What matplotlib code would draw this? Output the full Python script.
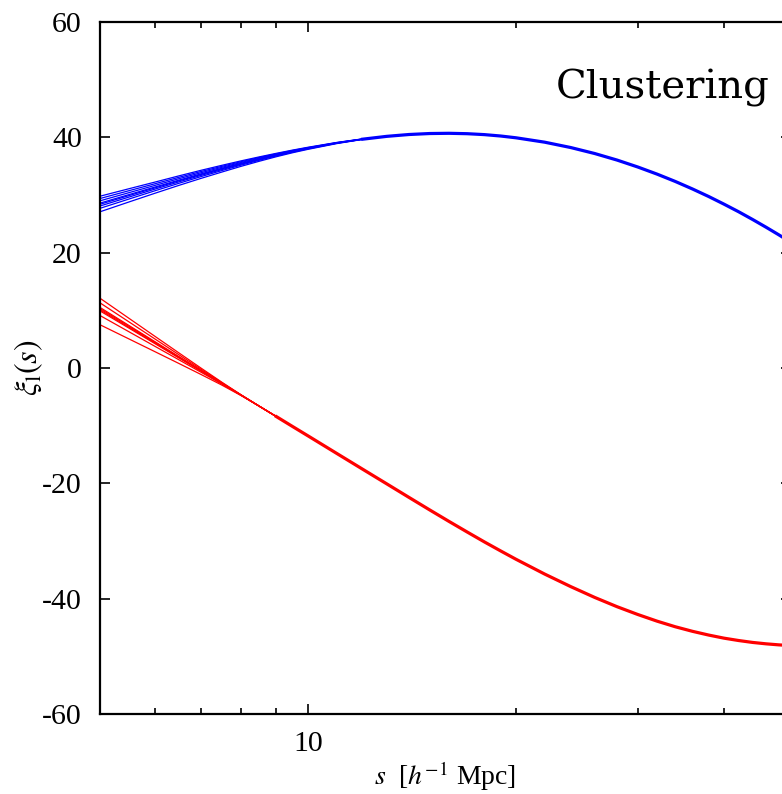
import matplotlib
matplotlib.use("Agg")
import matplotlib.pyplot as plt
from matplotlib.ticker import NullFormatter, LogLocator

plt.rcParams['font.family'] = 'Liberation Serif'
plt.rcParams['mathtext.fontset'] = 'stix'
plt.rcParams['axes.unicode_minus'] = False

# ---- blue family: separate curves at small s, one merged curve after ----
blue_fan_s = [5, 5.5, 6, 6.5, 7, 7.5, 8, 8.5, 9, 9.5, 10, 11, 12]
blue_1 = [29.79, 31.07, 32.23, 33.31, 34.28, 35.14, 35.92, 36.61, 37.23, 37.79, 38.28, 39.11, 39.74]
blue_2 = [29.39, 30.73, 31.94, 33.06, 34.07, 34.96, 35.78, 36.50, 37.14, 37.72, 38.22, 39.08, 39.72]
blue_3 = [28.99, 30.39, 31.65, 32.82, 33.86, 34.79, 35.64, 36.39, 37.05, 37.65, 38.17, 39.05, 39.71]
blue_4 = [28.59, 30.05, 31.37, 32.57, 33.66, 34.62, 35.50, 36.27, 36.97, 37.58, 38.12, 39.02, 39.69]
blue_5 = [28.39, 29.88, 31.22, 32.45, 33.55, 34.53, 35.43, 36.22, 36.92, 37.55, 38.09, 39.01, 39.68]
blue_6 = [28.09, 29.62, 31.01, 32.27, 33.40, 34.40, 35.32, 36.13, 36.86, 37.50, 38.05, 38.99, 39.67]
blue_7 = [27.69, 29.28, 30.72, 32.02, 33.19, 34.23, 35.18, 36.02, 36.77, 37.43, 38.00, 38.96, 39.66]
blue_8 = [27.09, 28.77, 30.29, 31.66, 32.88, 33.97, 34.97, 35.85, 36.64, 37.33, 37.92, 38.91, 39.64]

blue_tail_s = [12, 13, 14, 15, 16, 17, 18, 19, 20, 22, 24, 26, 28, 30, 32, 34, 36, 38, 40, 42,
               44, 46, 48, 50]
blue_tail = [39.68, 40.17, 40.49, 40.66, 40.70, 40.63, 40.47, 40.23, 39.92, 39.16, 38.23, 37.19,
             36.06, 34.86, 33.62, 32.35, 31.05, 29.74, 28.41, 27.09, 25.75, 24.42, 23.10, 21.78]

# ---- red family ----
red_fan_s = [5, 5.5, 6, 6.5, 7, 7.5, 8, 8.5, 9]
red_1 = [12.10, 8.66, 5.52, 2.64, -0.01, -2.44, -4.64, -6.62, -8.43]
red_2 = [11.30, 8.04, 5.06, 2.32, -0.21, -2.53, -4.67, -6.62, -8.43]
red_3 = [10.50, 7.41, 4.59, 2.00, -0.40, -2.62, -4.69, -6.62, -8.43]
red_4 = [10.30, 7.26, 4.48, 1.92, -0.45, -2.64, -4.70, -6.62, -8.43]
red_5 = [10.10, 7.10, 4.36, 1.84, -0.49, -2.66, -4.70, -6.62, -8.43]
red_6 = [9.90, 6.95, 4.25, 1.76, -0.54, -2.68, -4.71, -6.62, -8.43]
red_7 = [9.10, 6.32, 3.78, 1.44, -0.73, -2.77, -4.73, -6.62, -8.43]
red_8 = [7.50, 5.07, 2.85, 0.80, -1.12, -2.95, -4.78, -6.62, -8.43]

red_tail_s = [9, 9.5, 10, 11, 12, 13, 14, 15, 16, 17, 18, 19, 20, 22, 24, 26, 28, 30, 32, 34,
              36, 38, 40, 42, 44, 46, 48, 50]
red_tail = [-8.43, -10.15, -11.77, -14.80, -17.56, -20.09, -22.44, -24.61, -26.61, -28.45,
            -30.16, -31.72, -33.17, -35.73, -37.91, -39.79, -41.39, -42.74, -43.90, -44.87,
            -45.66, -46.31, -46.85, -47.26, -47.59, -47.83, -48.01, -48.14]

blue_lines = [blue_1, blue_2, blue_3, blue_4, blue_5, blue_6, blue_7, blue_8]
red_lines = [red_1, red_2, red_3, red_4, red_5, red_6, red_7, red_8]

y_ticks = [-60, -40, -20, 0, 20, 40, 60]

fig = plt.figure(figsize=(7.82, 7.94), dpi=100)
ax = fig.add_axes([100 / 782, 80 / 794, 691 / 782, 692 / 794])

for line in blue_lines:
    ax.plot(blue_fan_s, line, color='#0000ff', linewidth=0.9)
ax.plot(blue_tail_s, blue_tail, color='#0000ff', linewidth=2.3)
for line in red_lines:
    ax.plot(red_fan_s, line, color='#ff0000', linewidth=0.9)
ax.plot(red_tail_s, red_tail, color='#ff0000', linewidth=2.3)

ax.set_xscale('log')
ax.set_xlim(5, 50)
ax.set_ylim(-60, 60)
ax.set_xticks([10])
ax.set_xticklabels(['10'])
ax.xaxis.set_minor_locator(LogLocator(base=10, subs=range(2, 10)))
ax.xaxis.set_minor_formatter(NullFormatter())
ax.set_yticks(y_ticks)
ax.set_yticklabels([str(v) for v in y_ticks])

ax.tick_params(which='both', direction='in', top=True, right=True, width=1.2)
ax.tick_params(which='major', length=7.5, labelsize=21.5)
ax.tick_params(which='minor', length=4.5)
ax.tick_params(axis='y', pad=13)
ax.tick_params(axis='x', pad=12)
for sp in ax.spines.values():
    sp.set_linewidth(1.6)

ax.set_xlabel(r'$s$  [$h^{-1}$ Mpc]', fontsize=20, labelpad=2)
ax.set_ylabel(r'$\xi_{\rm l}(s)$', fontsize=23)
ax.yaxis.set_label_coords(-0.08, 0.5)

ax.text(0.9696, 0.905, 'Clustering', transform=ax.transAxes, ha='right', va='center',
        fontsize=29, family='DejaVu Serif')

fig.savefig('out.png', dpi=100)
